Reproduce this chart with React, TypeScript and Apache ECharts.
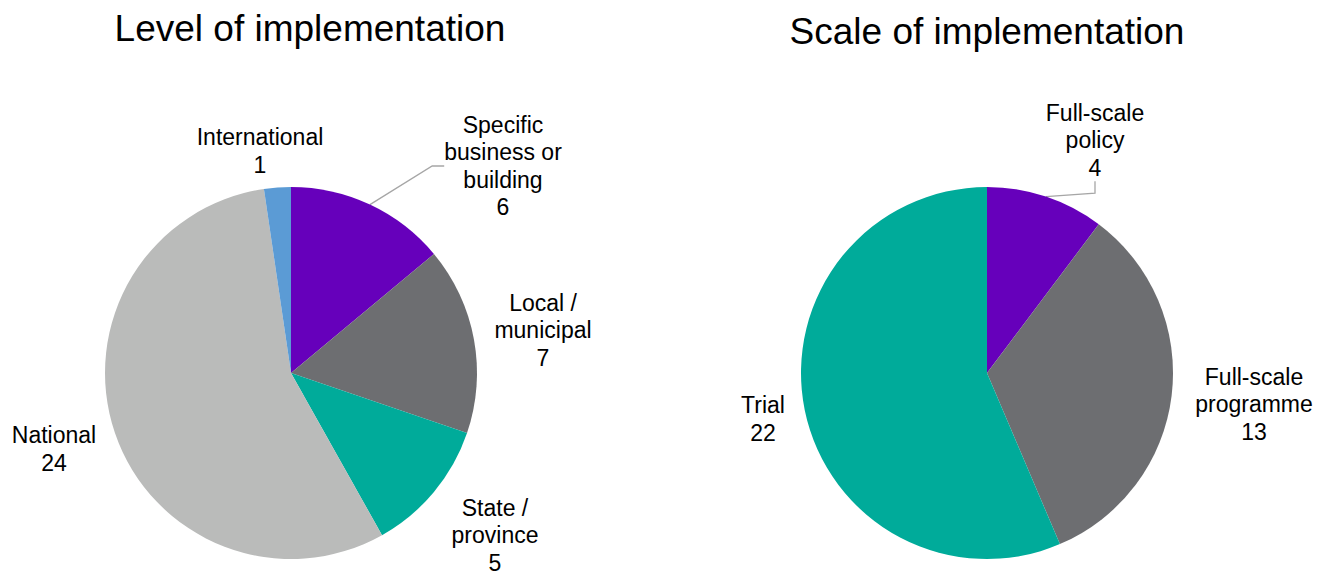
import React, { useEffect, useRef } from 'react';
import * as echarts from 'echarts';

const levelCategories = ['Specific business or building', 'Local / municipal', 'State / province', 'National', 'International'];
const levelLabelText = ['Specific\nbusiness or\nbuilding', 'Local /\nmunicipal', 'State /\nprovince', 'National', 'International'];
const levelValues = [6, 7, 5, 24, 1];
const levelColors = ['#6600BB', '#6D6E71', '#00AB9A', '#BABBBA', '#5B9BD5'];

const scaleCategories = ['Full-scale policy', 'Full-scale programme', 'Trial'];
const scaleLabelText = ['Full-scale\npolicy', 'Full-scale\nprogramme', 'Trial'];
const scaleValues = [4, 13, 22];
const scaleColors = ['#6600BB', '#6D6E71', '#00AB9A'];

const titles = ['Level of implementation', 'Scale of implementation'];

// label anchor positions (centre of the text block), per series
const labelPos: number[][][] = [
  [[503, 166], [543, 330], [495, 535], [54, 449], [260, 151]],
  [[1095, 140], [1254, 404], [763, 419]],
];
const leaderLines = [[true, false, false, false, false], [true, false, false]];

const FONT = '"Liberation Sans", Arial, Helvetica, sans-serif';

export default function App() {
  const ref = useRef<HTMLDivElement>(null);
  useEffect(() => {
    const chart = echarts.init(ref.current!, null, { renderer: 'svg' });
    const mk = (cats: string[], texts: string[], vals: number[], colors: string[], si: number) =>
      cats.map((c, i) => ({
        name: c,
        value: vals[i],
        itemStyle: { color: colors[i] },
        label: { formatter: texts[i] + '\n{c}' },
        labelLine: { show: leaderLines[si][i] },
      }));
    const commonSeries = {
      type: 'pie',
      radius: 186,
      startAngle: 90,
      clockwise: true,
      avoidLabelOverlap: false,
      label: {
        show: true,
        position: 'outside',
        fontFamily: FONT,
        fontSize: 23,
        lineHeight: 27.5,
        color: '#000',
        align: 'center',
      },
      labelLine: {
        show: false,
        length: 30,
        length2: 12,
        lineStyle: { color: '#A6A6A6', width: 1.3 },
      },
      itemStyle: { borderWidth: 0 },
      emphasis: { disabled: true },
    };
    chart.setOption({
      animation: false,
      graphic: [
        { type: 'text', style: { text: titles[0], x: 310, y: 28, textAlign: 'center', textVerticalAlign: 'middle', font: '37px ' + FONT, fill: '#000' } },
        { type: 'text', style: { text: titles[1], x: 987, y: 31, textAlign: 'center', textVerticalAlign: 'middle', font: '37px ' + FONT, fill: '#000' } },
      ],
      series: [
        {
          ...commonSeries,
          center: [291, 373],
          data: mk(levelCategories, levelLabelText, levelValues, levelColors, 0),
          labelLayout: (p: any) => {
            const pos = labelPos[0][p.dataIndex];
            return { x: pos[0], y: pos[1], align: 'center', verticalAlign: 'middle' };
          },
        },
        {
          ...commonSeries,
          center: [987, 373],
          data: mk(scaleCategories, scaleLabelText, scaleValues, scaleColors, 1),
          labelLayout: (p: any) => {
            const pos = labelPos[1][p.dataIndex];
            return { x: pos[0], y: pos[1], align: 'center', verticalAlign: 'middle' };
          },
        },
      ],
    });
    return () => chart.dispose();
  }, []);
  return <div ref={ref} style={{ position: 'absolute', left: 0, top: 0, width: 1324, height: 574 }} />;
}
